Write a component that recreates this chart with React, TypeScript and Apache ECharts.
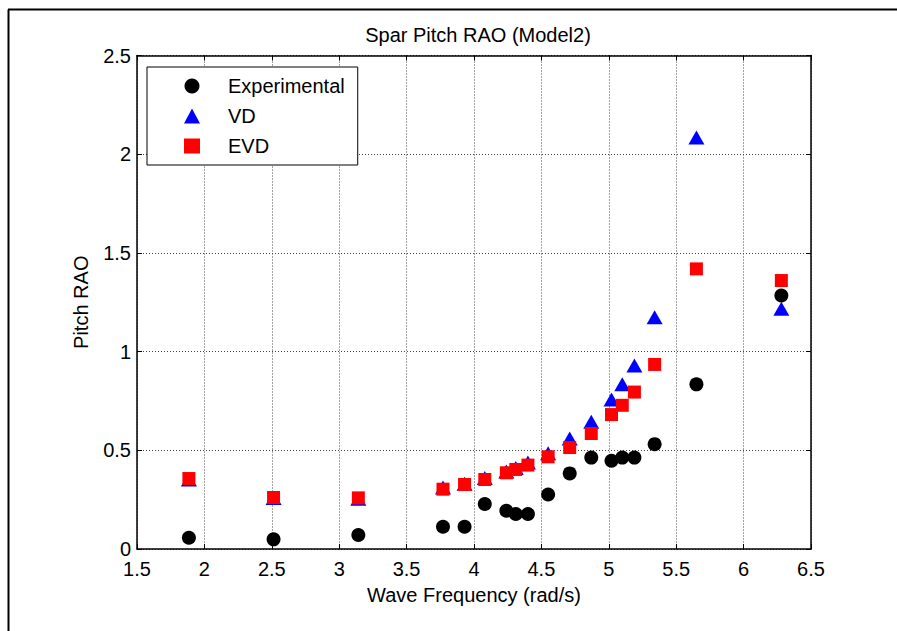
import React, { useEffect, useRef } from "react";
import * as echarts from "echarts";

const titleText = "Spar Pitch RAO (Model2)";
const xName = "Wave Frequency (rad/s)";
const yName = "Pitch RAO";
const seriesNames = ["Experimental", "VD", "EVD"];

const freq = [1.885, 2.513, 3.142, 3.77, 3.93, 4.08, 4.24, 4.31, 4.4, 4.55, 4.71, 4.87, 5.02, 5.1, 5.19, 5.34, 5.65, 6.28];
const experimental = [0.057, 0.049, 0.071, 0.113, 0.113, 0.228, 0.194, 0.177, 0.177, 0.276, 0.383, 0.463, 0.447, 0.463, 0.463, 0.531, 0.834, 1.284];
const vd = [0.352, 0.258, 0.255, 0.312, 0.33, 0.36, 0.393, 0.41, 0.438, 0.485, 0.56, 0.644, 0.757, 0.834, 0.93, 1.174, 2.084, 1.217];
const evd = [0.357, 0.261, 0.259, 0.303, 0.327, 0.352, 0.386, 0.403, 0.425, 0.467, 0.514, 0.585, 0.681, 0.728, 0.795, 0.935, 1.419, 1.36];

const FONT = "'Liberation Sans', Arial, sans-serif";

export default function App() {
  const ref = useRef<HTMLDivElement>(null);
  useEffect(() => {
    if (!ref.current) return;
    const chart = echarts.init(ref.current, null, { renderer: "svg" });
    const pair = (ys: number[]) => freq.map((x, i) => [x, ys[i]]);
    const axisCommon = {
      type: "value",
      axisLine: { show: true, onZero: false, lineStyle: { color: "#000", width: 1.5 } },
      axisTick: { show: true, inside: true, length: 5, lineStyle: { color: "#000" } },
    };
    const gridLine = { show: true, lineStyle: { type: [1, 2], color: "#444", width: 1 } };
    chart.setOption({
      animation: false,
      backgroundColor: "#fff",
      textStyle: { fontFamily: FONT },
      title: {
        text: titleText,
        left: 473,
        textAlign: "center",
        top: 20,
        textStyle: { fontFamily: FONT, fontSize: 20, fontWeight: "normal", color: "#000" },
      },
      grid: { left: 137, right: 86, top: 55.5, bottom: 82, containLabel: false },
      legend: {
        orient: "vertical",
        left: 147,
        top: 67,
        padding: [9, 13, 9, 37],
        itemWidth: 16,
        itemHeight: 15,
        itemGap: 10,
        borderColor: "#000",
        borderWidth: 1,
        backgroundColor: "#fff",
        textStyle: { fontFamily: FONT, fontSize: 20, color: "#000", padding: [0, 0, 0, 23] },
        data: seriesNames,
      },
      xAxis: [
        {
          ...axisCommon,
          position: "bottom",
          min: 1.5,
          max: 6.5,
          interval: 0.5,
          name: xName,
          nameLocation: "middle",
          nameGap: 36,
          nameTextStyle: { fontFamily: FONT, fontSize: 20, color: "#000" },
          axisLabel: { fontFamily: FONT, fontSize: 20, color: "#000", margin: 12, lineHeight: 16 },
          splitLine: gridLine,
        },
        {
          ...axisCommon,
          position: "top",
          min: 1.5,
          max: 6.5,
          interval: 0.5,
          axisLabel: { show: false },
          splitLine: { show: false },
        },
      ],
      yAxis: [
        {
          ...axisCommon,
          position: "left",
          min: 0,
          max: 2.5,
          interval: 0.5,
          name: yName,
          nameLocation: "middle",
          nameGap: 46,
          nameTextStyle: { fontFamily: FONT, fontSize: 20, color: "#000" },
          axisLabel: { fontFamily: FONT, fontSize: 20, color: "#000", margin: 6, lineHeight: 16 },
          splitLine: gridLine,
        },
        {
          ...axisCommon,
          position: "right",
          min: 0,
          max: 2.5,
          interval: 0.5,
          axisLabel: { show: false },
          splitLine: { show: false },
        },
      ],
      series: [
        {
          name: seriesNames[0],
          type: "scatter",
          symbol: "circle",
          symbolSize: 14,
          itemStyle: { color: "#000", opacity: 1 },
          data: pair(experimental),
        },
        {
          name: seriesNames[1],
          type: "scatter",
          symbol: "triangle",
          symbolSize: [16, 14],
          itemStyle: { color: "#0000ff", opacity: 1 },
          data: pair(vd),
        },
        {
          name: seriesNames[2],
          type: "scatter",
          symbol: "rect",
          symbolSize: 13,
          itemStyle: { color: "#ff0000", opacity: 1 },
          data: pair(evd),
        },
      ],
      graphic: [
        { type: "line", shape: { x1: 8.5, y1: 9.5, x2: 8.5, y2: 631 }, style: { stroke: "#000", lineWidth: 2 } },
        { type: "line", shape: { x1: 8, y1: 9.5, x2: 897, y2: 9.5 }, style: { stroke: "#000", lineWidth: 2 } },
      ],
    });
    return () => chart.dispose();
  }, []);
  return (
    <div
      ref={ref}
      style={{ position: "fixed", left: 0, top: 0, width: 897, height: 631, background: "#fff" }}
    />
  );
}
